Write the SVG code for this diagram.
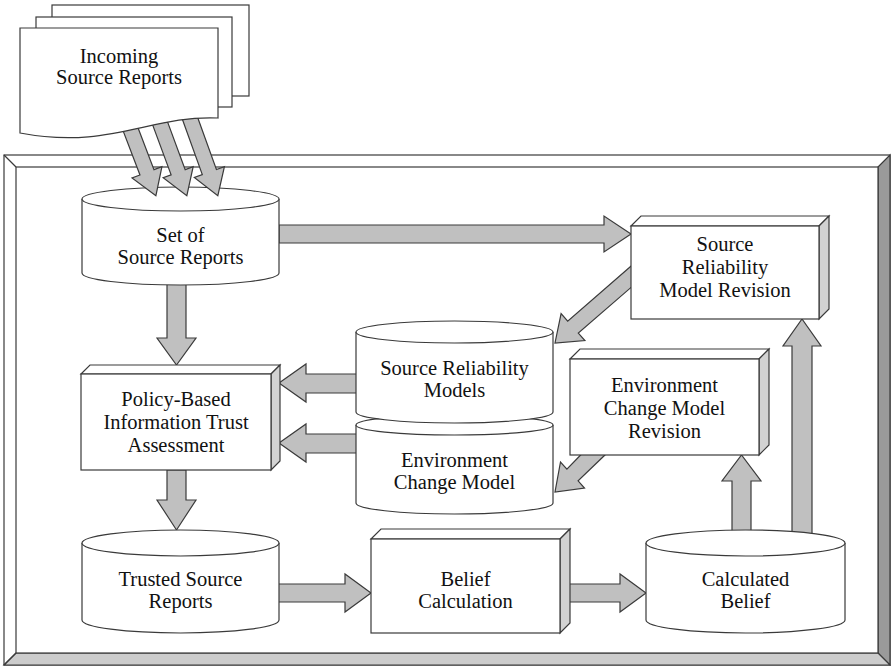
<svg xmlns="http://www.w3.org/2000/svg" width="891" height="666" viewBox="0 0 891 666" font-family="Liberation Serif, Times New Roman, serif">
  <style>
    .ln { stroke: #3a3a3a; stroke-width: 1.2; stroke-linejoin: miter; }
    .wf { fill: #ffffff; }
    .side { fill: #d2d2d2; }
    .arw { fill: #c0c0c0; stroke: #3a3a3a; stroke-width: 1.2; stroke-linejoin: miter; }
    .lbl { font-size: 20.5px; fill: #111; text-anchor: middle; }
  </style>

  <rect x="0" y="0" width="891" height="666" fill="#ffffff"/>

  <!-- bevelled outer frame -->
  <g id="frame">
    <rect class="ln wf" x="4" y="155" width="886" height="510"/>
    <polygon class="ln" fill="#9a9a9a" points="878,167 890,155 890,665 878,653"/>
    <polygon class="ln" fill="#cccccc" points="16,653 878,653 890,665 4,665"/>
    <rect class="ln wf" x="16" y="167" width="862" height="486"/>
    <line class="ln" x1="4" y1="155" x2="16" y2="167"/>
    <line class="ln" x1="4" y1="665" x2="16" y2="653"/>
  </g>

  <!-- block-arrow connectors (drawn beneath the nodes) -->
  <g id="connectors">
    <!-- set of reports -> reliability model revision -->
    <polygon class="arw" points="279,225 604,225 604,216 631,234 604,252 604,243 279,243"/>
    <!-- set of reports -> trust assessment -->
    <polygon class="arw" points="167,284 186,284 186,338 196,338 176.5,365 157,338 167,338"/>
    <!-- trust assessment -> trusted reports -->
    <polygon class="arw" points="167,470 186,470 186,500 196,500 176.5,530 157,500 167,500"/>
    <!-- reliability models -> trust assessment -->
    <polygon class="arw" points="357,374 306,374 306,364 279,383 306,402 306,393 357,393"/>
    <!-- environment model -> trust assessment -->
    <polygon class="arw" points="357,434 306,434 306,424 279,443 306,462 306,453 357,453"/>
    <!-- trusted reports -> belief calculation -->
    <polygon class="arw" points="278,584 345,584 345,574 371,593 345,612 345,602 278,602"/>
    <!-- belief calculation -> calculated belief -->
    <polygon class="arw" points="560,584 620,584 620,574 646,593 620,612 620,602 560,602"/>
    <!-- calculated belief -> environment model revision -->
    <polygon class="arw" points="732,533 732,481 722,481 741.5,455 761,481 751,481 751,533"/>
    <!-- calculated belief -> reliability model revision -->
    <polygon class="arw" points="792,534 792,346 783,346 802,319 821,346 812,346 812,534"/>
    <!-- reliability model revision -> reliability models -->
    <polygon class="arw" points="632,265.3 567.7,321.1 561.1,313.6 555,343 584.9,340.6 578.3,333.1 632,286.6"/>
    <!-- environment model revision -> environment model -->
    <polygon class="arw" points="581.6,454 566.9,469.2 560.5,462 555,492 584.5,488 578.1,480.8 606,454"/>
  </g>

  <!-- Set of Source Reports -->
  <g id="set-of-source-reports">
    <path class="ln wf" d="M82,199 V273 A98.5,12 0 0 0 279,273 V199"/>
    <ellipse class="ln wf" cx="180.5" cy="199" rx="98.5" ry="12"/>
    <text class="lbl" x="180.5" y="242">Set of</text>
    <text class="lbl" x="180.5" y="264">Source Reports</text>
  </g>

  <!-- incoming report arrows (over the top of the store) -->
  <g id="incoming-arrows">
    <polygon class="arw" points="0,-7.5 56,-7.5 56,-16 81,0 56,16 56,7.5 0,7.5" transform="translate(127,120) rotate(69.1)"/>
    <polygon class="arw" points="0,-7.5 61,-7.5 61,-16 86,0 61,16 61,7.5 0,7.5" transform="translate(157,115) rotate(69.7)"/>
    <polygon class="arw" points="0,-7.5 66,-7.5 66,-16 91,0 66,16 66,7.5 0,7.5" transform="translate(187,110) rotate(70.2)"/>
  </g>

  <!-- Incoming Source Reports (stack of documents) -->
  <g id="incoming-source-reports">
    <rect class="ln wf" x="52" y="5" width="197" height="91"/>
    <rect class="ln wf" x="36" y="17" width="196" height="90"/>
    <path class="ln wf" d="M20,28 H218 V118 C150,115 110,150 20,133 Z"/>
    <text class="lbl" x="119" y="63">Incoming</text>
    <text class="lbl" x="119" y="84">Source Reports</text>
  </g>

  <!-- Source Reliability Model Revision -->
  <g id="source-reliability-model-revision">
    <polygon class="ln wf" points="631,226 641,216 829,216 819,226"/>
    <polygon class="ln side" points="819,226 829,216 829,309 819,319"/>
    <rect class="ln wf" x="631" y="226" width="188" height="93"/>
    <text class="lbl" x="725" y="251">Source</text>
    <text class="lbl" x="725" y="274">Reliability</text>
    <text class="lbl" x="725" y="297">Model Revision</text>
  </g>

  <!-- Policy-Based Information Trust Assessment -->
  <g id="policy-based-trust-assessment">
    <polygon class="ln wf" points="81,374 90,365 280,365 271,374"/>
    <polygon class="ln side" points="271,374 280,365 280,461 271,470"/>
    <rect class="ln wf" x="81" y="374" width="190" height="96"/>
    <text class="lbl" x="176" y="406">Policy-Based</text>
    <text class="lbl" x="176" y="429">Information Trust</text>
    <text class="lbl" x="176" y="452">Assessment</text>
  </g>

  <!-- Environment Change Model (store) -->
  <g id="environment-change-model">
    <path class="ln wf" d="M356,425 V503 A98.5,11 0 0 0 553,503 V425"/>
    <ellipse class="ln wf" cx="454.5" cy="425" rx="98.5" ry="10"/>
    <text class="lbl" x="454.5" y="467">Environment</text>
    <text class="lbl" x="454.5" y="489">Change Model</text>
  </g>

  <!-- Source Reliability Models (store) -->
  <g id="source-reliability-models">
    <path class="ln wf" d="M356,332 V412 A98.5,11 0 0 0 553,412 V332"/>
    <ellipse class="ln wf" cx="454.5" cy="332" rx="98.5" ry="11"/>
    <text class="lbl" x="454.5" y="375">Source Reliability</text>
    <text class="lbl" x="454.5" y="397">Models</text>
  </g>

  <!-- Environment Change Model Revision -->
  <g id="environment-change-model-revision">
    <polygon class="ln wf" points="570,359 580,349 769,349 759,359"/>
    <polygon class="ln side" points="759,359 769,349 769,445 759,455"/>
    <rect class="ln wf" x="570" y="359" width="189" height="96"/>
    <text class="lbl" x="664.5" y="392">Environment</text>
    <text class="lbl" x="664.5" y="415">Change Model</text>
    <text class="lbl" x="664.5" y="438">Revision</text>
  </g>

  <!-- Trusted Source Reports (store) -->
  <g id="trusted-source-reports">
    <path class="ln wf" d="M82,543 V620 A98.5,13 0 0 0 279,620 V543"/>
    <ellipse class="ln wf" cx="180.5" cy="543" rx="98.5" ry="13"/>
    <text class="lbl" x="180.5" y="586">Trusted Source</text>
    <text class="lbl" x="180.5" y="608">Reports</text>
  </g>

  <!-- Belief Calculation -->
  <g id="belief-calculation">
    <polygon class="ln wf" points="371,539 381,529 570,529 560,539"/>
    <polygon class="ln side" points="560,539 570,529 570,623 560,633"/>
    <rect class="ln wf" x="371" y="539" width="189" height="94"/>
    <text class="lbl" x="465.5" y="586">Belief</text>
    <text class="lbl" x="465.5" y="608">Calculation</text>
  </g>

  <!-- Calculated Belief (store) -->
  <g id="calculated-belief">
    <path class="ln wf" d="M646,543 V620 A99.5,13 0 0 0 845,620 V543"/>
    <ellipse class="ln wf" cx="745.5" cy="543" rx="99.5" ry="13"/>
    <text class="lbl" x="745.5" y="586">Calculated</text>
    <text class="lbl" x="745.5" y="608">Belief</text>
  </g>
</svg>
